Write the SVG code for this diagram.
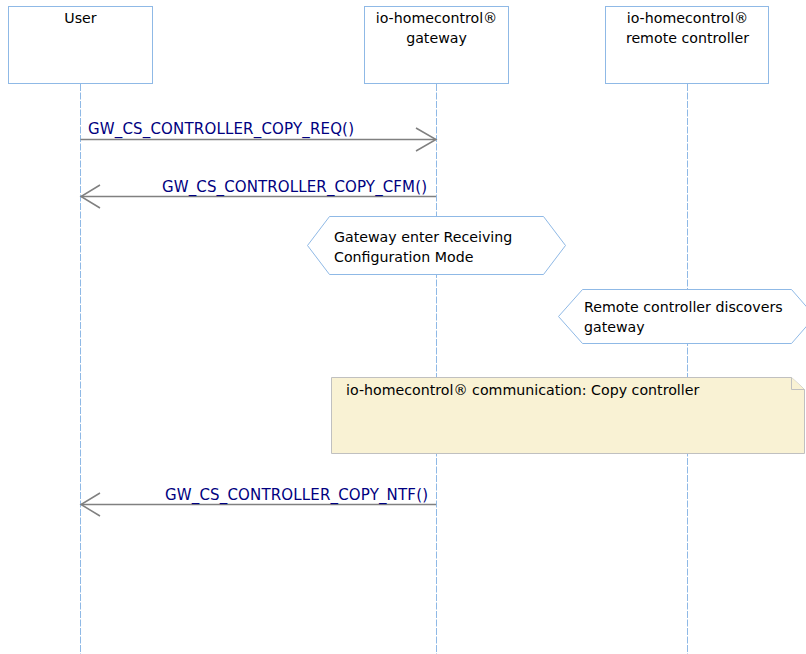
<svg xmlns="http://www.w3.org/2000/svg" width="806" height="654" viewBox="0 0 806 654">
<style>
.box{fill:#fff;stroke:#8fb9e6;stroke-width:1}
.life{stroke:#8fb9e6;stroke-width:1;stroke-dasharray:7,1.5;fill:none}
.t{font-family:"DejaVu Sans",Verdana,sans-serif;font-size:14.2px;fill:#000}
.m{font-family:"DejaVu Sans",Verdana,sans-serif;font-size:15px;fill:#000080}
.msg{stroke:#808080;stroke-width:1.5;fill:none}
.note{fill:#f9f2d4;stroke:#c0c0c0;stroke-width:1}
</style>
<rect width="806" height="654" fill="#fff"/>
<g id="lifelines">
<line class="life" x1="80.5" y1="84" x2="80.5" y2="654"/>
<line class="life" x1="436.5" y1="84" x2="436.5" y2="654"/>
<line class="life" x1="687.5" y1="84" x2="687.5" y2="654"/>
</g>
<g id="user">
<rect class="box" x="8.5" y="6.5" width="144" height="77"/>
<text class="t" x="80.5" y="23" text-anchor="middle">User</text>
</g>
<g id="gateway">
<rect class="box" x="364.5" y="6.5" width="144" height="77"/>
<text class="t" x="436.5" y="23" text-anchor="middle">io-homecontrol®</text>
<text class="t" x="436.5" y="43" text-anchor="middle">gateway</text>
</g>
<g id="remote">
<rect class="box" x="605.5" y="6.5" width="163" height="77"/>
<text class="t" x="687.5" y="23" text-anchor="middle">io-homecontrol®</text>
<text class="t" x="687.5" y="43" text-anchor="middle">remote controller</text>
</g>
<g id="connectors">
<g id="req">
<line class="msg" x1="80.5" y1="139.5" x2="436" y2="139.5"/>
<polyline class="msg" points="416,128 436,139.5 416,151"/>
<text class="m" x="88" y="134" textLength="266">GW_CS_CONTROLLER_COPY_REQ()</text>
</g>
<g id="cfm">
<line class="msg" x1="436" y1="196.5" x2="81" y2="196.5"/>
<polyline class="msg" points="100,185 81,196.5 100,208"/>
<text class="m" x="162" y="192" textLength="265">GW_CS_CONTROLLER_COPY_CFM()</text>
</g>
<g id="ntf">
<line class="msg" x1="436" y1="504.5" x2="81" y2="504.5"/>
<polyline class="msg" points="100,493 81,504.5 100,516"/>
<text class="m" x="165" y="500" textLength="263">GW_CS_CONTROLLER_COPY_NTF()</text>
</g>
</g>
<g id="state-gateway">
<polygon class="box" points="307.5,245.5 329.5,216.5 543.5,216.5 565.5,245.5 543.5,274.5 329.5,274.5"/>
<text class="t" x="334" y="242">Gateway enter Receiving</text>
<text class="t" x="334" y="262">Configuration Mode</text>
</g>
<g id="state-remote">
<polygon class="box" points="558.5,316.5 582.5,289.5 791.5,289.5 815,316.5 791.5,343.5 582.5,343.5"/>
<text class="t" x="584" y="312">Remote controller discovers</text>
<text class="t" x="584" y="332">gateway</text>
</g>
<g id="note">
<path class="note" d="M331.5,377.5 H791.5 L804.5,389.5 V453.5 H331.5 Z"/>
<path class="note" d="M791.5,377.5 V389.5 H804.5" fill="none"/>
<text class="t" x="346" y="395">io-homecontrol® communication: Copy controller</text>
</g>
</svg>
